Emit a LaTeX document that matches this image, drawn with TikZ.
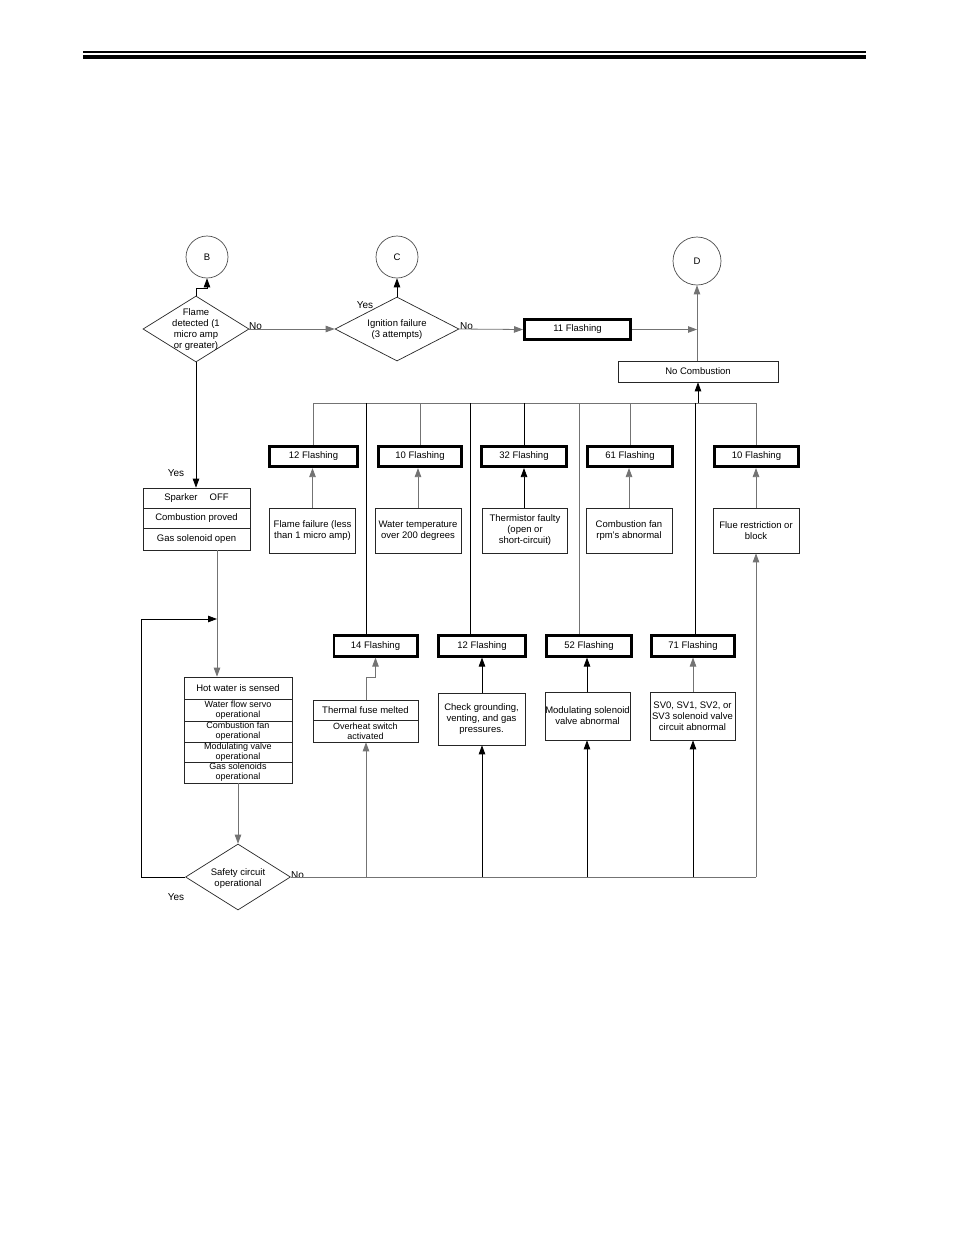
\documentclass[tikz,border=0pt]{standalone}
\usepackage{fontspec}
\setmainfont{Liberation Sans}
\usetikzlibrary{shapes.geometric,arrows.meta,calc}
\begin{document}
\begin{tikzpicture}[x=1pt,y=-1pt,
  every node/.style={font=\fontsize{9.5}{11}\selectfont},
  gl/.style={line width=0.8pt, draw=black!55},
  bl/.style={line width=0.8pt, draw=black},
  tip/.style={-{Triangle[length=9pt,width=6.5pt]}},
  bx/.style={draw=black!85, line width=0.7pt, align=center, inner sep=0pt},
  fl/.style={draw=black, line width=2.6pt, minimum height=20.5pt, inner sep=0pt, align=center},
  circ/.style={circle, draw=black!70, line width=0.7pt, inner sep=0pt},
  dia/.style={diamond, draw=black!85, line width=0.7pt, inner sep=0pt},
  txt/.style={align=center, inner sep=0pt},
  yn/.style={font=\fontsize{10}{12}\selectfont, inner sep=0pt},
  two/.style={font=\fontsize{9}{10}\selectfont}
]
\useasboundingbox[fill=white] (0,0) rectangle (954,1235);
% header rules
\draw[line width=1.2pt] (83,52) -- (866,52);
\draw[line width=4pt] (83,57) -- (866,57);

% connectors circles
\node[circ, minimum size=42pt] (B) at (207,257) {B};
\node[circ, minimum size=42pt] (C) at (397,257) {C};
\node[circ, minimum size=48pt] (D) at (697,261) {D};

% diamonds
\node[dia, minimum width=106pt, minimum height=66pt] (flame) at (196,329) {};
\node[txt] (flamet) at (196,330) {Flame\\detected (1\\micro amp\\or greater)};
\node[dia, minimum width=124pt, minimum height=64pt] (ign) at (397,329) {};
\node[txt] (ignt) at (397,330) {Ignition failure\\(3 attempts)};
\node[dia, minimum width=105pt, minimum height=66pt] (safety) at (238,877) {};
\node[txt] (safetyt) at (238,879) {Safety circuit\\operational};

% top boxes
\node[fl, minimum width=106.4pt] (f11) at (577.5,329.5) {11 Flashing};
\node[bx, minimum width=160pt, minimum height=21pt] (nocomb) at (698,371.5) {No Combustion};

% row 1 flashing
\node[fl, minimum width=88.4pt] (f12a) at (313.5,456.5) {12 Flashing};
\node[fl, minimum width=83.4pt] (f10a) at (420,456.5) {10 Flashing};
\node[fl, minimum width=85.4pt] (f32) at (524,456.5) {32 Flashing};
\node[fl, minimum width=85.4pt] (f61) at (630,456.5) {61 Flashing};
\node[fl, minimum width=84.4pt] (f10b) at (756.5,456.5) {10 Flashing};

% row 1 descriptions
\node[bx, minimum width=86pt, minimum height=45pt] (d1) at (312.5,530.5) {Flame failure (less\\than 1 micro amp)};
\node[bx, minimum width=86pt, minimum height=45pt] (d2) at (418,530.5) {Water temperature\\over 200 degrees};
\node[bx, minimum width=85pt, minimum height=45pt] (d3) at (525,530.5) {Thermistor faulty\\(open or\\short-circuit)};
\node[bx, minimum width=86pt, minimum height=45pt] (d4) at (629,530.5) {Combustion fan\\rpm's abnormal};
\node[bx, minimum width=86pt, minimum height=45pt] (d5) at (756,530.5) {Flue restriction or\\block};

% row 2 flashing
\node[fl, minimum width=83.4pt] (f14) at (375.5,646) {14 Flashing};
\node[fl, minimum width=87.4pt] (f12b) at (482,646) {12 Flashing};
\node[fl, minimum width=85.4pt] (f52) at (589,646) {52 Flashing};
\node[fl, minimum width=83.4pt] (f71) at (693,646) {71 Flashing};

% row 2 descriptions
\node[bx, minimum width=105pt, minimum height=20pt] (th1) at (365.5,710) {Thermal fuse melted};
\node[bx, minimum width=105pt, minimum height=22pt, two] (th2) at (365.5,731) {Overheat switch\\activated};
\node[bx, minimum width=87pt, minimum height=52pt] (check) at (481.5,719) {Check grounding,\\venting, and gas\\pressures.};
\node[bx, minimum width=85pt, minimum height=48pt] (modul) at (587.5,716) {Modulating solenoid\\valve abnormal};
\node[bx, minimum width=85pt, minimum height=48pt] (sv) at (692.5,716) {SV0, SV1, SV2, or\\SV3 solenoid valve\\circuit abnormal};

% sparker column
\node[bx, minimum width=107pt, minimum height=20pt] (s1) at (196.5,498) {Sparker\quad\ OFF};
\node[bx, minimum width=107pt, minimum height=20pt] (s2) at (196.5,518) {Combustion proved};
\node[bx, minimum width=107pt, minimum height=22pt] (s3) at (196.5,539) {Gas solenoid open};

% hot water column
\node[bx, minimum width=108pt, minimum height=22pt] (h1) at (238,688) {Hot water is sensed};
\node[bx, minimum width=108pt, minimum height=22pt, two] (h2) at (238,710) {Water flow servo\\operational};
\node[bx, minimum width=108pt, minimum height=21pt, two] (h3) at (238,731.5) {Combustion fan\\operational};
\node[bx, minimum width=108pt, minimum height=20pt, two] (h4) at (238,752) {Modulating valve\\operational};
\node[bx, minimum width=108pt, minimum height=21pt, two] (h5) at (238,772.5) {Gas solenoids\\operational};

% yes/no labels
\node[yn, anchor=west] (no1) at (249,326) {No};
\node[yn] (yes1) at (365,305) {Yes};
\node[yn, anchor=west] (no2) at (460,326) {No};
\node[yn] (yes2) at (176,473) {Yes};
\node[yn, anchor=west] (no3) at (291,875) {No};
\node[yn] (yes3) at (176,897) {Yes};

% helper coordinates
\coordinate (bus) at (0,403);
\coordinate (v1) at (366,403);
\coordinate (v2) at (470,403);
\coordinate (v3) at (579,403);
\coordinate (v4) at (695,403);
\coordinate (v217) at (217,600);
\coordinate (loopin) at (217,619);
\coordinate (u1) at (366,877);
\coordinate (u2) at (482,877);
\coordinate (u3) at (587,877);
\coordinate (u4) at (693,877);

% top connections
\draw[bl, tip] (flame.north) -- ++(0,-7) -| (B.south);
\draw[gl, tip] (flame.east) -- (ign.west);
\draw[bl, tip] (ign.north) -- (C.south);
\draw[gl, tip] (ign.east) -- (f11.west);
\draw[gl, tip] (f11.east) -- (f11.east -| D.south);
\draw[gl, tip] (D.south |- nocomb.north) -- (D.south);
\draw[bl, tip] (nocomb.south |- bus) -- (nocomb.south);

% upper bus
\draw[gl] (f12a.north |- bus) -- (f10b.north |- bus);
\draw[gl] (f12a.north) -- (f12a.north |- bus);
\draw[bl] (v1) -- (v1 |- f14.north);
\draw[gl] (f10a.north) -- (f10a.north |- bus);
\draw[bl] (v2) -- (v2 |- f12b.north);
\draw[bl] (f32.north) -- (f32.north |- bus);
\draw[gl] (v3) -- (v3 |- f52.north);
\draw[gl] (f61.north) -- (f61.north |- bus);
\draw[bl] (v4) -- (v4 |- f71.north);
\draw[gl] (f10b.north) -- (f10b.north |- bus);

% description -> flashing (row 1)
\draw[gl, tip] (d1.north) -- (d1.north |- f12a.south);
\draw[gl, tip] (d2.north) -- (d2.north |- f10a.south);
\draw[bl, tip] (d3.north -| f32.south) -- (f32.south);
\draw[gl, tip] (d4.north) -- (d4.north |- f61.south);
\draw[gl, tip] (d5.north) -- (d5.north |- f10b.south);

% description -> flashing (row 2)
\draw[gl, tip] (th1.north -| u1) -- ++(0,-22) -| (f14.south);
\draw[bl, tip] (check.north -| u2) -- (f12b.south -| u2);
\draw[bl, tip] (modul.north -| u3) -- (f52.south -| u3);
\draw[gl, tip] (sv.north -| u4) -- (f71.south -| u4);

% left column
\draw[bl, tip] (flame.south) -- (flame.south |- s1.north);
\draw[gl, tip] (s3.south -| v217) -- (h1.north -| v217);
\draw[gl, tip] (h5.south) -- (safety.north);
\draw[bl, tip] (safety.west) -- ++(-44,0) |- (loopin);

% lower bus
\draw[gl] (safety.east) -- (safety.east -| d5.south);
\draw[gl, tip] (u1) -- (u1 |- th2.south);
\draw[bl, tip] (u2) -- (u2 |- check.south);
\draw[bl, tip] (u3) -- (u3 |- modul.south);
\draw[bl, tip] (u4) -- (u4 |- sv.south);
\draw[gl, tip] (safety.east -| d5.south) -- (d5.south);
\end{tikzpicture}
\end{document}
